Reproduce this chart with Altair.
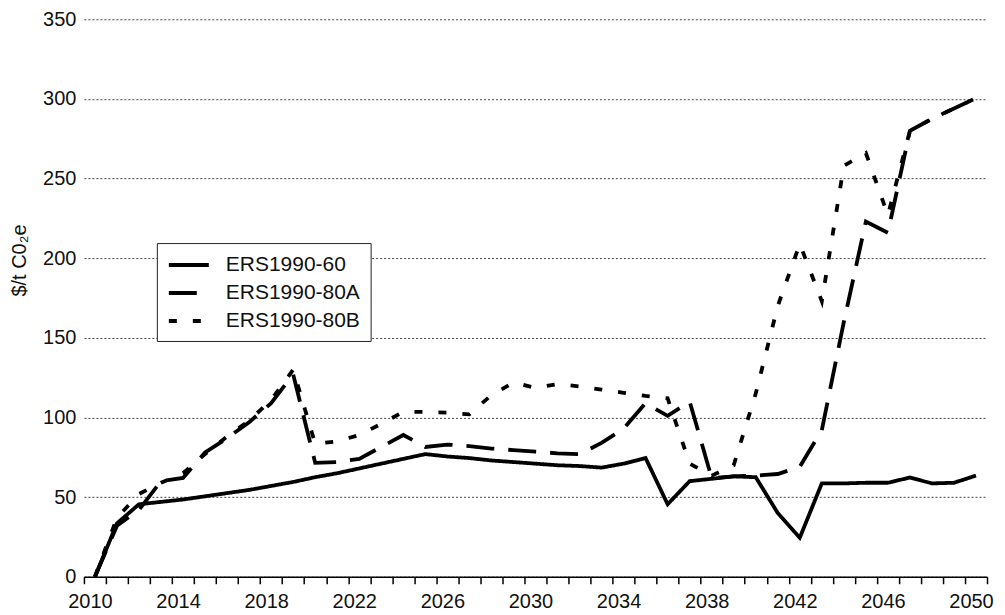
import altair as alt
import pandas as pd

years = list(range(2010, 2051))

ers60 = [0, 33.5, 45.5, 47, 48.5, 50.5, 52.5, 54.5, 57, 59.5,
         62.5, 65, 68, 71, 74, 77, 75.5, 74.5, 73, 72,
         71, 70, 69.5, 68.5, 71, 74.5, 45.5, 60, 61.5, 63,
         62.5, 40, 24.5, 58.6, 58.6, 59, 59, 62.3, 58.6, 59,
         63.5]

ers80a = [0, 32, 42, 60, 62, 78, 87, 97, 109, 127,
          71.5, 72, 74, 81.5, 89, 81.5, 83, 82, 80.5, 79.5,
          78.5, 77.5, 77, 84, 93, 109, 101, 110, 62, 63,
          63.5, 64.5, 69, 92, 160, 223, 216, 280, 287.5, 294,
          300.5]

ers80b = [0, 37, 52, 59, 65, 77, 88, 98, 111, 130,
          83.5, 85, 89, 96, 103.5, 103.5, 103, 102, 114, 122,
          118.5, 121, 119.5, 117.5, 115.5, 113.5, 112, 71, 63.5, 70,
          115, 170, 209, 173, 258, 266, 227, 280, 287.5, 294,
          300.5]

series_names = ["ERS1990-60", "ERS1990-80A", "ERS1990-80B"]
y_ticks = [0, 50, 100, 150, 200, 250, 300, 350]
label_step = 4

rows = []
for name, vals in zip(series_names, [ers60, ers80a, ers80b]):
    for yr, v in zip(years, vals):
        rows.append({"year": yr, "value": v, "series": name})
df = pd.DataFrame(rows)

# ticks sit between categories, labels near category centres
x_ticks = [y - 0.5 for y in years] + [years[-1] + 0.5]

W, H = 904, 558
half_year_px = W / (len(years)) / 2

FONT = "Liberation Sans"

chart = alt.Chart(df).mark_line(
    color="black", strokeWidth=3.8, strokeCap="butt", strokeJoin="miter"
).encode(
    x=alt.X(
        "year:Q",
        scale=alt.Scale(domain=[years[0] - 0.5, years[-1] + 0.5], nice=False, zero=False),
        axis=alt.Axis(
            values=x_ticks,
            labelExpr=f"(datum.value + 0.5 - {years[0]}) % {label_step} == 0 ? format(datum.value + 0.5, 'd') : ''",
            labelOffset=half_year_px - 5,
            labelOverlap=False,
            labelFlush=False,
            labelBound=False,
            tickSize=7,
            tickWidth=1.5,
            tickColor="black",
            domainColor="black",
            domainWidth=1.5,
            labelPadding=8,
            labelFontSize=20,
            labelFont=FONT,
            labelColor="#111",
            grid=False,
            title=None,
        ),
    ),
    y=alt.Y(
        "value:Q",
        scale=alt.Scale(domain=[0, 350], nice=False),
        axis=alt.Axis(
            values=y_ticks,
            domain=False,
            ticks=False,
            grid=True,
            gridDash=[2, 2],
            gridColor="#444",
            gridWidth=1,
            labelFontSize=20,
            labelFont=FONT,
            labelColor="#111",
            labelPadding=8,
            title="$/t C0₂e",
            titleFont=FONT,
            titleFontSize=20,
            titleFontWeight="normal",
            titleColor="#111",
            titleAngle=270,
            titleAlign="center",
            titleBaseline="middle",
            titleX=-64,
            titleY=241,
        ),
    ),
    strokeDash=alt.StrokeDash(
        "series:N",
        scale=alt.Scale(domain=series_names, range=[[1, 0], [28, 14], [8, 16]]),
        legend=alt.Legend(
            title=None,
            orient="none",
            legendX=73,
            legendY=224,
            symbolType="M-1,0H3",
            symbolSize=400,
            symbolStrokeWidth=4,
            symbolStrokeColor="black",
            labelFontSize=21,
            labelFont=FONT,
            labelColor="#111",
            labelOffset=35,
            rowPadding=6,
            padding=10,
            strokeColor="#222",
            fillColor="white",
        ),
    ),
).properties(
    width=W,
    height=H,
    autosize=alt.AutoSizeParams(type="none"),
    padding={"left": 76, "top": 11, "right": 10, "bottom": 40},
    background="white",
).configure_view(stroke=None)

chart.save("out.html", embed_options={"renderer": "svg", "actions": False})
